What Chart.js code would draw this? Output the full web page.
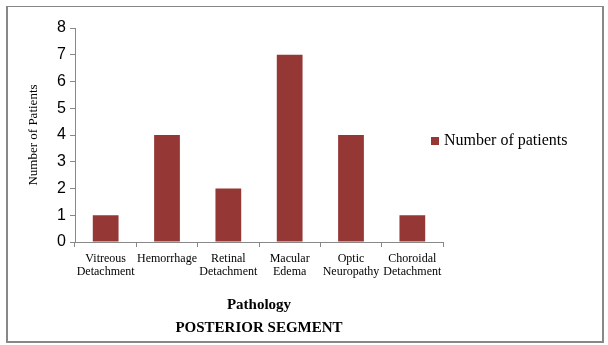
<!DOCTYPE html>
<html>
<head>
<meta charset="utf-8">
<style>
    body { margin: 0; background: #fff; }
    .frame {
        position: absolute; left: 6px; top: 6px; width: 594px; height: 334px;
        border: 2px solid #888; border-top-width: 1px;
    }
    .wrap { position: absolute; left: 0; top: 0; width: 608px; height: 345px; }
    #legend {
        position: absolute; left: 431px; top: 131px;
        font: 16px "Liberation Serif", "Times New Roman", serif; color: #000;
        white-space: nowrap;
    }
    #legend span.box { display: inline-block; width: 8px; height: 8px; margin-right: 5px; }
</style>
</head>
<body>
<div class="frame"></div>
<div class="wrap">
    <canvas id="pathologyChart" width="608" height="345"></canvas>
</div>
<div id="legend"></div>

<script src="https://cdn.jsdelivr.net/npm/chart.js"></script>
<script>
var categories = [
    ['Vitreous', 'Detachment'],
    'Hemorrhage',
    ['Retinal', 'Detachment'],
    ['Macular', 'Edema'],
    ['Optic', 'Neuropathy'],
    ['Choroidal', 'Detachment']
];
var patients = [1, 4, 2, 7, 4, 1];
var yTicks = [0, 1, 2, 3, 4, 5, 6, 7, 8];

var serif = '"Liberation Serif", "Times New Roman", serif';
var sans = '"Liberation Sans", Arial, sans-serif';

var ctx = document.getElementById('pathologyChart').getContext('2d');
var myBarChart = new Chart(ctx, {
    type: 'bar',
    data: {
        labels: categories,
        datasets: [{
            label: 'Number of patients',
            data: patients,
            backgroundColor: '#953735',
            borderWidth: 0,
            barPercentage: 0.42,
            categoryPercentage: 1
        }]
    },
    options: {
        responsive: false,
        animation: false,
        layout: { padding: { left: 0, right: 165, top: 28, bottom: 0 } },
        plugins: {
            legend: { display: false },
            tooltip: { enabled: false }
        },
        scales: {
            x: {
                grid: { drawOnChartArea: false, color: '#888', tickLength: 5, offset: true },
                border: { color: '#888' },
                ticks: { color: '#000', font: { family: serif, size: 12, lineHeight: 1.1 }, padding: 5, maxRotation: 0, autoSkip: false },
                title: {
                    display: true,
                    text: ['Pathology', 'POSTERIOR SEGMENT'],
                    color: '#000',
                    font: { family: serif, size: 15, weight: 'bold', lineHeight: 1.53 },
                    padding: { top: 0, bottom: 5 }
                },
                afterFit: function(scale) { scale.height = 103; }
            },
            y: {
                min: 0,
                max: 8,
                afterBuildTicks: function(scale) {
                    scale.ticks = yTicks.map(function(v) { return { value: v }; });
                },
                grid: { drawOnChartArea: false, color: '#888', tickLength: 5 },
                border: { color: '#888' },
                ticks: { color: '#000', font: { family: sans, size: 16 }, padding: 4 },
                title: {
                    display: true,
                    text: 'Number of Patients',
                    color: '#000',
                    font: { family: serif, size: 13, lineHeight: 1.2 },
                    padding: { top: 26, bottom: 0 }
                },
                afterFit: function(scale) { scale.width = 75; }
            }
        }
    }
});

// legend built from the dataset
var legendEl = document.getElementById('legend');
myBarChart.data.datasets.forEach(function(ds) {
    var item = document.createElement('div');
    var box = document.createElement('span');
    box.className = 'box';
    box.style.background = ds.backgroundColor;
    item.appendChild(box);
    item.appendChild(document.createTextNode(ds.label));
    legendEl.appendChild(item);
});
</script>
</body>
</html>
